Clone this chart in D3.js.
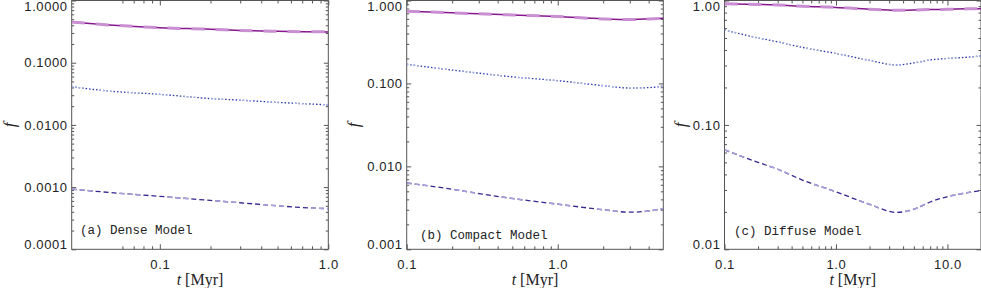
<!DOCTYPE html>
<html>
<head>
<meta charset="utf-8">
<script src="https://cdn.jsdelivr.net/npm/d3@7"></script>
<style>
  html, body { margin: 0; padding: 0; background: #fff; }
  svg { display: block; }
  .tick text { font-family: "Liberation Sans", Arial, sans-serif; font-size: 13px; letter-spacing: 0.6px; fill: #222; }
  .tick line { stroke: #555; }
</style>
</head>
<body>
<svg id="chart" width="981" height="288"></svg>
<script>
// ---------------- DATA ----------------
// Panel (a) Dense Model
const tA      = [0.03, 0.05, 0.1, 0.2, 0.3, 0.5, 0.7, 1.0];
const topA    = [0.45, 0.405, 0.365, 0.345, 0.33, 0.32, 0.315, 0.313];
const dotA    = [0.041, 0.035, 0.031, 0.0265, 0.025, 0.023, 0.022, 0.021];
const dashA   = [0.00093, 0.00082, 0.00071, 0.00061, 0.00056, 0.0005, 0.00047, 0.00045];

// Panel (b) Compact Model
const tB      = [0.1, 0.2, 0.3, 0.5, 1.0, 2.0, 3.0, 4.0, 5.0];
const topB    = [0.74, 0.71, 0.69, 0.67, 0.64, 0.60, 0.59, 0.60, 0.61];
const dotB    = [0.17, 0.145, 0.133, 0.12, 0.108, 0.094, 0.088, 0.089, 0.093];
const dashB   = [0.0063, 0.0053, 0.0047, 0.0041, 0.0035, 0.0030, 0.0028, 0.0029, 0.0031];

// Panel (c) Diffuse Model
const tC      = [0.1, 0.2, 0.3, 0.5, 1.0, 2.0, 3.5, 5.0, 7.0, 10.0, 15.0, 20.0];
const topC    = [0.94, 0.93, 0.92, 0.90, 0.88, 0.85, 0.835, 0.838, 0.845, 0.85, 0.857, 0.86];
const dotC    = [0.58, 0.50, 0.465, 0.42, 0.375, 0.33, 0.303, 0.315, 0.333, 0.342, 0.35, 0.358];
const dashC   = [0.063, 0.050, 0.044, 0.036, 0.029, 0.023, 0.0198, 0.021, 0.024, 0.0265, 0.0285, 0.0297];

// Axis ticks and labels
const xDomainA = [0.03, 1.0];
const xTicksA  = [0.1, 1.0];
const xLabelsA = ["0.1", "1.0"];
const yDomainA = [0.0001, 1.0];
const yTicksA  = [0.0001, 0.001, 0.01, 0.1, 1.0];
const yLabelsA = ["0.0001", "0.0010", "0.0100", "0.1000", "1.0000"];

const xDomainB = [0.1, 5.0];
const xTicksB  = [0.1, 1.0];
const xLabelsB = ["0.1", "1.0"];
const yDomainB = [0.001, 1.0];
const yTicksB  = [0.001, 0.01, 0.1, 1.0];
const yLabelsB = ["0.001", "0.010", "0.100", "1.000"];

const xDomainC = [0.1, 20.0];
const xTicksC  = [0.1, 1.0, 10.0];
const xLabelsC = ["0.1", "1.0", "10.0"];
const yDomainC = [0.01, 1.0];
const yTicksC  = [0.01, 0.1, 1.0];
const yLabelsC = ["0.01", "0.10", "1.00"];

const panelLabels = ["(a) Dense Model", "(b) Compact Model", "(c) Diffuse Model"];
const yTitle = "f";

// ---------------- LAYOUT ----------------
const svg = d3.select("#chart");
const TOP = 0.5, BOTTOM = 249.3;
const layouts = [
  { x0: 71.7,  x1: 328.3, labelX: 80,  labelY: 234, fX: 15  },
  { x0: 406.7, x1: 663.3, labelX: 420, labelY: 239, fX: 359 },
  { x0: 724.5, x1: 981.0, labelX: 734, labelY: 235, fX: 686 }
];
const panels = [
  { t: tA, top: topA, dot: dotA, dash: dashA, xd: xDomainA, xt: xTicksA, xl: xLabelsA, yd: yDomainA, yt: yTicksA, yl: yLabelsA },
  { t: tB, top: topB, dot: dotB, dash: dashB, xd: xDomainB, xt: xTicksB, xl: xLabelsB, yd: yDomainB, yt: yTicksB, yl: yLabelsB },
  { t: tC, top: topC, dot: dotC, dash: dashC, xd: xDomainC, xt: xTicksC, xl: xLabelsC, yd: yDomainC, yt: yTicksC, yl: yLabelsC }
];

function minorTicks(domain, minStart) {
  const out = [];
  const k0 = Math.floor(Math.log10(domain[0])), k1 = Math.ceil(Math.log10(domain[1]));
  for (let k = k0; k <= k1; k++) {
    for (let m = 2; m <= 9; m++) {
      const v = m * Math.pow(10, k);
      if (v > domain[0] * 1.0001 && v < domain[1] * 0.9999 && (minStart === undefined || v >= minStart)) out.push(v);
    }
  }
  return out;
}

const AX = "#555";

panels.forEach((p, i) => {
  const L = layouts[i];
  const x = d3.scaleLog().domain(p.xd).range([L.x0, L.x1]);
  const y = d3.scaleLog().domain(p.yd).range([BOTTOM, TOP]);
  const g = svg.append("g");

  const clipId = "clip" + i;
  svg.append("clipPath").attr("id", clipId).append("rect")
    .attr("x", L.x0).attr("y", TOP).attr("width", L.x1 - L.x0).attr("height", BOTTOM - TOP);

  const xMinor = minorTicks(p.xd, i === 0 ? 0.06 : undefined);
  const yMinor = minorTicks(p.yd);

  g.append("g").attr("transform", `translate(0,${BOTTOM})`)
    .call(d3.axisBottom(x).tickValues(p.xt).tickFormat((d, j) => p.xl[j]).tickSizeInner(-5).tickSizeOuter(0).tickPadding(10));
  g.append("g").attr("transform", `translate(0,${BOTTOM})`)
    .call(d3.axisBottom(x).tickValues(xMinor).tickFormat("").tickSizeInner(-3).tickSizeOuter(0));
  g.append("g").attr("transform", `translate(0,${TOP})`)
    .call(d3.axisTop(x).tickValues(p.xt).tickFormat("").tickSizeInner(-5).tickSizeOuter(0));
  g.append("g").attr("transform", `translate(0,${TOP})`)
    .call(d3.axisTop(x).tickValues(xMinor).tickFormat("").tickSizeInner(-3).tickSizeOuter(0));

  const leftMajor = g.append("g").attr("transform", `translate(${L.x0},0)`)
    .call(d3.axisLeft(y).tickValues(p.yt).tickFormat((d, j) => p.yl[j]).tickSizeInner(-4.5).tickSizeOuter(0).tickPadding(4));
  g.append("g").attr("transform", `translate(${L.x0},0)`)
    .call(d3.axisLeft(y).tickValues(yMinor).tickFormat("").tickSizeInner(-2.5).tickSizeOuter(0));
  g.append("g").attr("transform", `translate(${L.x1},0)`)
    .call(d3.axisRight(y).tickValues(p.yt).tickFormat("").tickSizeInner(-4.5).tickSizeOuter(0));
  g.append("g").attr("transform", `translate(${L.x1},0)`)
    .call(d3.axisRight(y).tickValues(yMinor).tickFormat("").tickSizeInner(-2.5).tickSizeOuter(0));

  leftMajor.selectAll(".tick text").attr("y", d => {
    const pos = y(d);
    if (pos < 6.5) return 6.5 - pos;
    if (pos > 244) return 244 - pos;
    return 0;
  });

  g.selectAll(".domain").remove();
  g.selectAll(".tick line").attr("stroke", AX);

  g.append("rect").attr("x", L.x0).attr("y", TOP).attr("width", L.x1 - L.x0).attr("height", BOTTOM - TOP)
    .attr("fill", "none").attr("stroke", AX).attr("stroke-width", 1);

  const lineOf = (vals) => d3.line()
    .x((d, j) => x(p.t[j]))
    .y(d => y(d))
    .curve(d3.curveMonotoneX)(vals);

  const lg = svg.append("g").attr("clip-path", `url(#${clipId})`);

  lg.append("path").attr("d", lineOf(p.dash)).attr("fill", "none")
    .attr("stroke", "#33288f").attr("stroke-width", 1.3).attr("stroke-dasharray", "5,3");
  lg.append("path").attr("d", lineOf(p.dash)).attr("fill", "none")
    .attr("stroke", "#aaa0da").attr("stroke-width", 1.6).attr("stroke-dasharray", "5,3,5,3,5,3,0,24");

  lg.append("path").attr("d", lineOf(p.dot)).attr("fill", "none")
    .attr("stroke", "#2535a5").attr("stroke-width", 1.3).attr("stroke-dasharray", "1.5,2");
  lg.append("path").attr("d", lineOf(p.dot)).attr("fill", "none")
    .attr("stroke", "#a9b3e3").attr("stroke-width", 1.5).attr("stroke-dasharray", "1.5,2,1.5,2,1.5,2,1.5,2,0,14");

  lg.append("path").attr("d", lineOf(p.top)).attr("fill", "none")
    .attr("stroke", "#86178f").attr("stroke-width", 1.5);
  lg.append("path").attr("d", lineOf(p.top)).attr("fill", "none")
    .attr("stroke", "#c98fd2").attr("stroke-width", 3).attr("stroke-dasharray", "13,11");

  svg.append("text").attr("x", L.labelX).attr("y", L.labelY)
    .attr("font-family", "'Liberation Mono', 'DejaVu Sans Mono', monospace")
    .attr("font-size", 12.5).attr("fill", "#222")
    .text(panelLabels[i]);

  const xt = svg.append("text").attr("x", (L.x0 + L.x1) / 2).attr("y", 285)
    .attr("text-anchor", "middle")
    .attr("font-family", "'Liberation Serif', 'DejaVu Serif', serif")
    .attr("font-size", 16).attr("fill", "#222");
  xt.append("tspan").attr("font-style", "italic").text("t");
  xt.append("tspan").text("\u00A0[Myr]");

  svg.append("text")
    .attr("transform", `translate(${L.fX},125) rotate(-90)`)
    .attr("text-anchor", "middle")
    .attr("font-family", "'Liberation Serif', 'DejaVu Serif', serif")
    .attr("font-style", "italic")
    .attr("font-size", 17).attr("fill", "#222")
    .text(yTitle);
});
</script>
</body>
</html>
